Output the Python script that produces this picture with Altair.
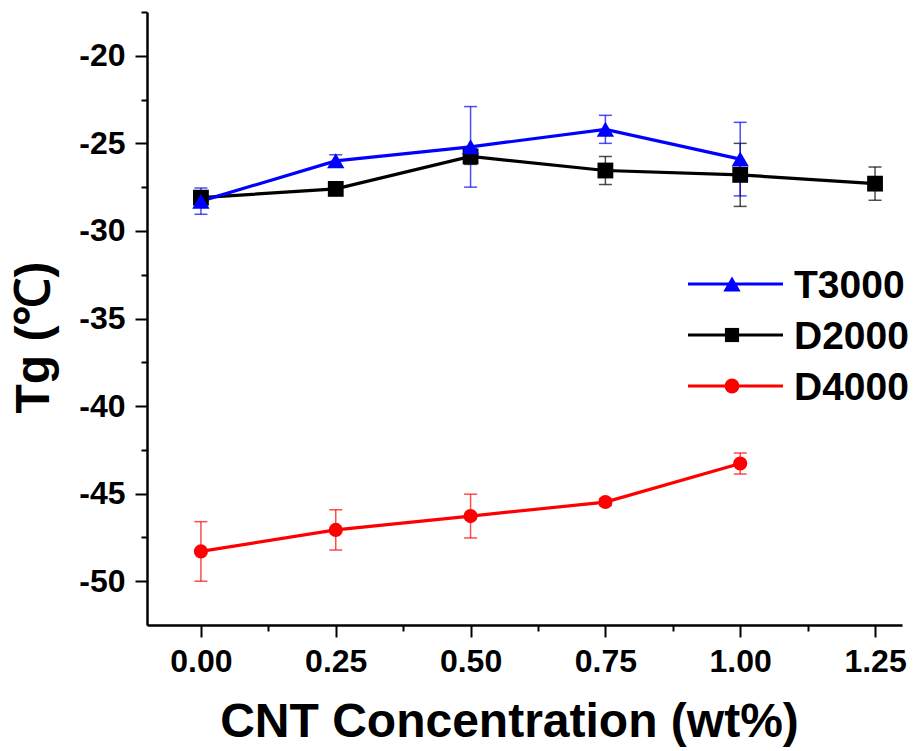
import altair as alt
import pandas as pd

# ---- data ----
conc = [0.0, 0.25, 0.5, 0.75, 1.0, 1.25]
series_names = ["T3000", "D2000", "D4000"]
colors = ["#0000FF", "#000000", "#FF0000"]
shapes = ["triangle-up", "square", "circle"]
marker_sizes = [300, 200, 220]

t3000 = [-28.3, -26.0, -25.2, -24.2, -25.9]
t3000_err = [0.75, 0.35, 2.3, 0.8, 2.1]
d2000 = [-28.1, -27.6, -25.75, -26.55, -26.8, -27.3]
d2000_err = [0.3, 0.2, 0.45, 0.8, 1.8, 0.95]
d4000 = [-48.3, -47.07, -46.28, -45.48, -43.28]
d4000_err = [1.7, 1.15, 1.25, 0.2, 0.6]

x_tick_values = [0.0, 0.125, 0.25, 0.375, 0.5, 0.625, 0.75, 0.875, 1.0, 1.125, 1.25]
y_tick_values = [-50, -47.5, -45, -42.5, -40, -37.5, -35, -32.5, -30, -27.5,
                 -25, -22.5, -20, -17.5]

x_domain = [-0.1, 1.3]
y_domain = [-52.5, -17.5]

FONT = "Liberation Sans"

rows = []
for name, vals, errs in [("D4000", d4000, d4000_err),
                         ("D2000", d2000, d2000_err),
                         ("T3000", t3000, t3000_err)]:
    for i, (v, e) in enumerate(zip(vals, errs)):
        rows.append({"series": name, "conc": conc[i], "tg": v,
                     "lo": v - e, "hi": v + e, "order": i})
df = pd.DataFrame(rows)

W, H = 755, 613

x_axis = alt.Axis(
    values=x_tick_values,
    labelExpr="abs(datum.value*4 - round(datum.value*4)) < 0.001 ? format(datum.value, '.2f') : ''",
    tickSize={"condition": {"test": "abs(datum.value*4 - round(datum.value*4)) > 0.001", "value": 6}, "value": 12},
    title="CNT Concentration (wt%)",
    titlePadding=21,
    titleX=362,
    labelPadding=9,
    labelOverlap=False,
    labelFlush=False,
)
y_axis = alt.Axis(
    values=y_tick_values,
    labelExpr="datum.value % 5 === 0 ? toString(datum.value) : ''",
    tickSize={"condition": {"test": "datum.value % 5 !== 0", "value": 6}, "value": 12},
    title="Tg (℃)",
    titlePadding=20,
    titleY=325,
    labelPadding=10,
    labelOverlap=False,
    labelFlush=False,
)

x_scale = alt.Scale(domain=x_domain, nice=False, zero=False)
y_scale = alt.Scale(domain=y_domain, nice=False, zero=False)
color_scale = alt.Scale(domain=series_names, range=colors)
shape_scale = alt.Scale(domain=series_names, range=shapes)
size_scale = alt.Scale(domain=series_names, range=marker_sizes)

base = alt.Chart(df)

errbars = base.mark_errorbar(ticks=True, size=13, thickness=1.5, opacity=0.7).encode(
    x=alt.X("conc:Q", scale=x_scale, axis=x_axis),
    y=alt.Y("lo:Q", scale=y_scale, axis=y_axis),
    y2="hi:Q",
    color=alt.Color("series:N", scale=color_scale, legend=None),
    detail="series:N",
)

lines = base.mark_line(strokeWidth=3.2).encode(
    x=alt.X("conc:Q", scale=x_scale, axis=x_axis),
    y=alt.Y("tg:Q", scale=y_scale, axis=y_axis),
    color=alt.Color("series:N", scale=color_scale, legend=None),
    detail="series:N",
    order="order:Q",
)

points = base.mark_point(filled=True, opacity=1, strokeWidth=0).encode(
    x=alt.X("conc:Q", scale=x_scale, axis=x_axis),
    y=alt.Y("tg:Q", scale=y_scale, axis=y_axis),
    color=alt.Color("series:N", scale=color_scale, legend=None),
    shape=alt.Shape("series:N", scale=shape_scale, legend=None),
    size=alt.Size("series:N", scale=size_scale, legend=None),
)

# ---- manual legend (line + marker + label) ----
legend_layers = []
row_y = [272, 323, 374]
for name, col, shp, sz, yy in zip(series_names, colors, shapes, marker_sizes, row_y):
    d = alt.Data(values=[{"s": name}])
    legend_layers.append(
        alt.Chart(d).mark_rule(strokeWidth=3, color=col).encode(
            x=alt.value(541), x2=alt.value(636), y=alt.value(yy))
    )
    legend_layers.append(
        alt.Chart(d).mark_point(filled=True, opacity=1, strokeWidth=0, color=col,
                                shape=shp, size=sz).encode(
            x=alt.value(585), y=alt.value(yy))
    )
    legend_layers.append(
        alt.Chart(d).mark_text(align="left", baseline="middle", font=FONT,
                               fontSize=39, fontWeight="bold", color="black").encode(
            x=alt.value(647), y=alt.value(yy + 2), text="s:N")
    )

chart = alt.layer(errbars, lines, points, *legend_layers).properties(
    width=W, height=H,
    autosize=alt.AutoSizeParams(type="none"),
    padding={"left": 147, "top": 12, "right": 14, "bottom": 126},
    background="white",
).configure_view(stroke=None).configure_axis(
    grid=False,
    domainColor="black",
    domainWidth=2.5,
    tickColor="black",
    tickWidth=2,
    labelFont=FONT,
    labelFontSize=32,
    labelFontWeight="bold",
    labelColor="black",
    titleFont=FONT,
    titleFontSize=48,
    titleFontWeight="bold",
    titleColor="black",
)

chart.save("out.html", embed_options={"renderer": "svg", "actions": False})
